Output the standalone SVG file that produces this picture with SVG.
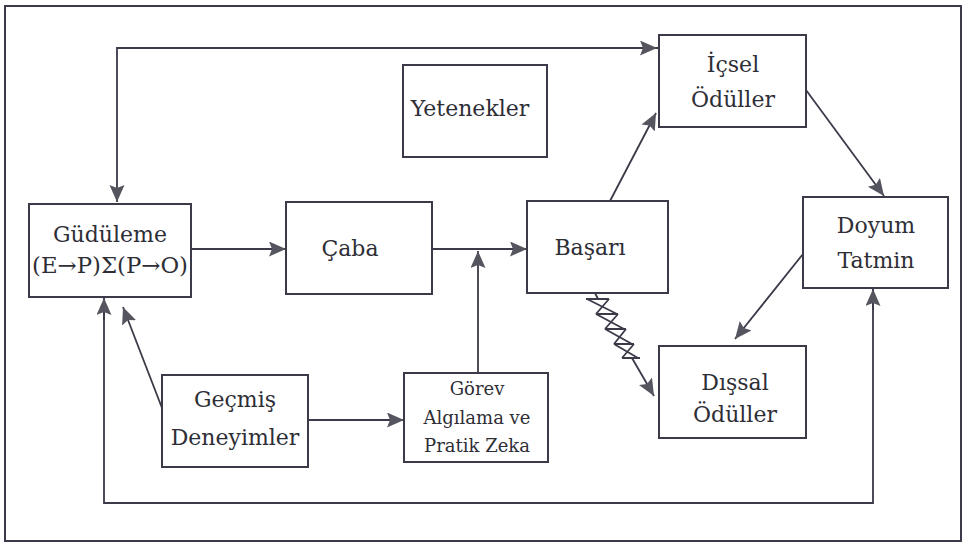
<svg xmlns="http://www.w3.org/2000/svg" width="966" height="544" viewBox="0 0 966 544">
  <style>
    .box { fill: #ffffff; stroke: #3a3a48; stroke-width: 2; }
    text { font-family: 'DejaVu Serif', 'Liberation Serif', serif; font-weight: normal; }
    .lbl { font-size: 22px; fill: #2e2e36; text-anchor: middle; }
    .sm { font-size: 18px; }
    .wire { fill: none; stroke: #3a3a48; stroke-width: 1.8; }
  </style>
  <defs>
    <marker id="arr" markerUnits="userSpaceOnUse" markerWidth="18" markerHeight="16" refX="17" refY="7.5" orient="auto">
      <path d="M0,0 L17,7.5 L0,15 L3,7.5 z" fill="#555560"/>
    </marker>
  </defs>

  <rect x="0" y="0" width="966" height="544" fill="#ffffff"/>
  <!-- outer frame -->
  <rect x="5" y="6" width="956" height="535" fill="none" stroke="#3a3a48" stroke-width="2"/>

  <!-- connectors -->
  <g id="connectors">
    <!-- top loop: Güdüleme <-> İçsel Ödüller -->
    <polyline class="wire" points="659,48 117,48 117,202" marker-end="url(#arr)"/>
    <line class="wire" x1="117" y1="48" x2="657" y2="48" marker-end="url(#arr)"/>
    <!-- Güdüleme -> Çaba -->
    <line class="wire" x1="191" y1="249" x2="286" y2="249" marker-end="url(#arr)"/>
    <!-- Çaba -> Başarı -->
    <line class="wire" x1="432" y1="249" x2="527" y2="249" marker-end="url(#arr)"/>
    <!-- Görev -> junction -->
    <line class="wire" x1="478" y1="373" x2="478" y2="251" marker-end="url(#arr)"/>
    <!-- Geçmiş -> Görev -->
    <line class="wire" x1="308" y1="420" x2="404" y2="420" marker-end="url(#arr)"/>
    <!-- Geçmiş -> Güdüleme -->
    <line class="wire" x1="162" y1="408" x2="123" y2="307" marker-end="url(#arr)"/>
    <!-- Başarı -> İçsel Ödüller -->
    <line class="wire" x1="610" y1="201" x2="656" y2="113" marker-end="url(#arr)"/>
    <!-- İçsel Ödüller -> Doyum -->
    <line class="wire" x1="806" y1="90" x2="884" y2="196" marker-end="url(#arr)"/>
    <!-- Doyum -> Dışsal Ödüller -->
    <line class="wire" x1="803" y1="254" x2="735" y2="339" marker-end="url(#arr)"/>
    <!-- Başarı ~> Dışsal Ödüller (zigzag) -->
    <line class="wire" x1="595" y1="293" x2="598" y2="299"/>
    <path class="wire" d="M586,299 L609,299 M587,299 L617,314 M609,299 L596,314 M596,314 L618,314
                          M596,314 L624,329 M618,314 L605,329 M605,329 L626,329
                          M605,329 L632,344 M626,329 L614,344 M614,344 L634,344
                          M614,344 L638,358 M634,344 L622,358 M622,358 L640,358"/>
    <line class="wire" x1="632" y1="358" x2="654" y2="396" marker-end="url(#arr)"/>
    <!-- bottom loop: Güdüleme <-> Doyum -->
    <polyline class="wire" points="104,298 104,503 873,503 873,289"/>
    <line class="wire" x1="104" y1="320" x2="104" y2="298" marker-end="url(#arr)"/>
    <line class="wire" x1="873" y1="310" x2="873" y2="289" marker-end="url(#arr)"/>
  </g>

  <g id="gudulame">
    <rect class="box" x="29" y="204" width="162" height="93"/>
    <text class="lbl" x="110" y="242">Güdüleme</text>
    <text class="lbl" x="110" y="273" font-size="21" textLength="156" lengthAdjust="spacingAndGlyphs">(E→P)Σ(P→O)</text>
  </g>

  <g id="caba">
    <rect class="box" x="286" y="202" width="146" height="92"/>
    <text class="lbl" x="350" y="256">Çaba</text>
  </g>

  <g id="basari">
    <rect class="box" x="527" y="201" width="141" height="92"/>
    <text class="lbl" x="590" y="255">Başarı</text>
  </g>

  <g id="yetenekler">
    <rect class="box" x="403" y="65" width="144" height="92"/>
    <text class="lbl" x="470" y="116">Yetenekler</text>
  </g>

  <g id="icsel-oduller">
    <rect class="box" x="659" y="35" width="147" height="92"/>
    <text class="lbl" x="733" y="72">İçsel</text>
    <text class="lbl" x="733" y="107">Ödüller</text>
  </g>

  <g id="doyum">
    <rect class="box" x="803" y="197" width="145" height="91"/>
    <text class="lbl" x="876" y="233">Doyum</text>
    <text class="lbl" x="876" y="268">Tatmin</text>
  </g>

  <g id="dissal-oduller">
    <rect class="box" x="659" y="346" width="147" height="92"/>
    <text class="lbl" x="735" y="390">Dışsal</text>
    <text class="lbl" x="735" y="422">Ödüller</text>
  </g>

  <g id="gecmis">
    <rect class="box" x="162" y="375" width="146" height="92"/>
    <text class="lbl" x="235" y="407">Geçmiş</text>
    <text class="lbl" x="235" y="445">Deneyimler</text>
  </g>

  <g id="gorev">
    <rect class="box" x="404" y="373" width="144" height="89"/>
    <text class="lbl sm" x="477" y="395">Görev</text>
    <text class="lbl sm" x="477" y="424">Algılama ve</text>
    <text class="lbl sm" x="477" y="452">Pratik Zeka</text>
  </g>
</svg>
